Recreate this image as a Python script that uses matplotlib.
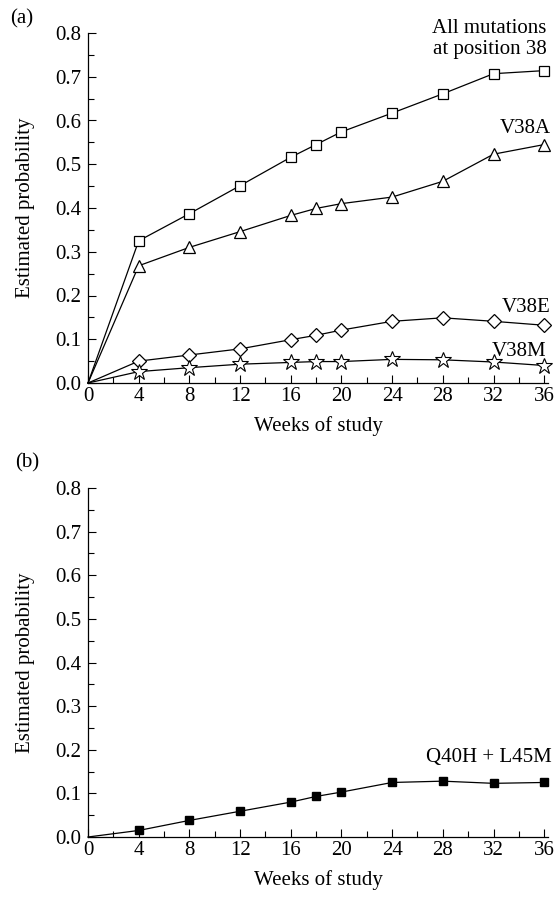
import matplotlib
matplotlib.use("Agg")
import matplotlib.pyplot as plt
from matplotlib.ticker import MultipleLocator, FormatStrFormatter

plt.rcParams['font.family'] = ['Liberation Serif', 'DejaVu Serif']

weeks = [0, 4, 8, 12, 16, 18, 20, 24, 28, 32, 36]
all38 = [0.0, 0.325, 0.387, 0.451, 0.516, 0.545, 0.574, 0.617, 0.661, 0.707, 0.714]
v38a = [0.0, 0.268, 0.310, 0.346, 0.383, 0.399, 0.410, 0.425, 0.461, 0.523, 0.545]
v38e = [0.0, 0.050, 0.064, 0.078, 0.099, 0.109, 0.121, 0.141, 0.149, 0.141, 0.132]
v38m = [0.0, 0.026, 0.035, 0.043, 0.047, 0.049, 0.049, 0.054, 0.053, 0.048, 0.040]
q40h = [0.0, 0.015, 0.038, 0.059, 0.080, 0.093, 0.103, 0.125, 0.128, 0.123, 0.125]

xticks = [0, 4, 8, 12, 16, 20, 24, 28, 32, 36]

W, H = 556, 900
fig = plt.figure(figsize=(W / 100, H / 100), dpi=100)

def pax(left, top, right, bottom):
    return fig.add_axes([left / W, 1 - bottom / H, (right - left) / W, (bottom - top) / H])

FS = 15

def style(ax):
    ax.set_xlim(0, 36.3)
    ax.set_ylim(0, 0.8)
    ax.spines['top'].set_visible(False)
    ax.spines['right'].set_visible(False)
    for s in ['left', 'bottom']:
        ax.spines[s].set_linewidth(0.9)
    ax.set_xticks(xticks)
    ax.xaxis.set_minor_locator(MultipleLocator(2))
    ax.yaxis.set_major_locator(MultipleLocator(0.1))
    ax.yaxis.set_minor_locator(MultipleLocator(0.05))
    ax.yaxis.set_major_formatter(FormatStrFormatter('%.1f'))
    ax.tick_params(which='major', direction='in', length=5.5, width=0.8, labelsize=FS)
    ax.tick_params(which='minor', direction='in', length=4, width=0.8)
    ax.tick_params(axis='x', which='major', pad=3)
    ax.tick_params(axis='y', which='major', pad=5)
    ax.set_xlabel('Weeks of study', fontsize=FS, labelpad=7)
    ax.set_ylabel('Estimated probability', fontsize=FS, labelpad=14)

lw = 0.9
mk = slice(1, None)
ax1 = pax(88, 33, 548, 383)
style(ax1)
ax1.plot(weeks, all38, '-', color='black', lw=lw, marker='s', ms=7, mfc='white', mec='black', mew=0.9, markevery=mk, clip_on=False)
ax1.plot(weeks, v38a, '-', color='black', lw=lw, marker='^', ms=8, mfc='white', mec='black', mew=0.9, markevery=mk, clip_on=False)
ax1.plot(weeks, v38e, '-', color='black', lw=lw, marker='D', ms=7.5, mfc='white', mec='black', mew=0.9, markevery=mk, clip_on=False)
ax1.plot(weeks, v38m, '-', color='black', lw=lw, marker='*', ms=12, mfc='white', mec='black', mew=0.8, markevery=mk, clip_on=False)

ax1.text(36.2, 0.752, 'All mutations\nat position 38', ha='right', va='baseline', fontsize=FS, linespacing=1.15)
ax1.text(36.5, 0.572, 'V38A', ha='right', va='baseline', fontsize=FS)
ax1.text(36.5, 0.162, 'V38E', ha='right', va='baseline', fontsize=FS)
ax1.text(36.2, 0.062, 'V38M', ha='right', va='baseline', fontsize=FS)
fig.text(10 / W, 1 - 19 / H, '(a)', ha='left', va='center', fontsize=FS)

ax2 = pax(88, 488, 548, 837)
style(ax2)
ax2.plot(weeks, q40h, '-', color='black', lw=lw, marker='s', ms=6, mfc='black', mec='black', markevery=mk, clip_on=False)
ax2.text(36.6, 0.173, 'Q40H + L45M', ha='right', va='baseline', fontsize=FS)
fig.text(15 / W, 1 - 463 / H, '(b)', ha='left', va='center', fontsize=FS)

fig.savefig('out.png', dpi=100)
